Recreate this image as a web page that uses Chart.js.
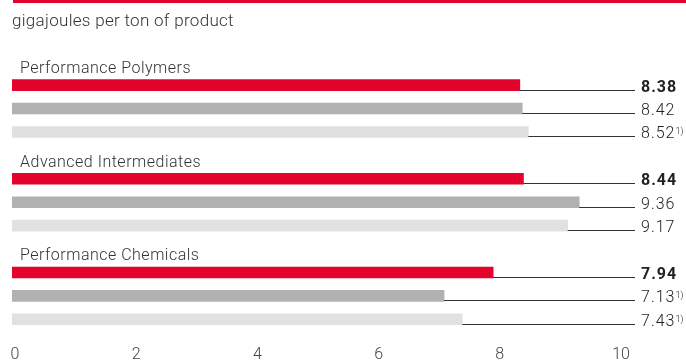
<!DOCTYPE html>
<html>
<head>
    <meta charset="UTF-8">
    <title>Energy per ton of product</title>
    <script src="https://cdn.jsdelivr.net/npm/chart.js"></script>
    <style>
        body { margin: 0; padding: 0; background: #fff; }
        .chart-container { position: relative; width: 686px; height: 363px; }
    </style>
</head>
<body>
    <div class="chart-container">
        <canvas id="energyChart" width="686" height="363"></canvas>
    </div>

    <script>
        // data
        const groups = ['Performance Polymers', 'Advanced Intermediates', 'Performance Chemicals'];
        const currentYear = [8.38, 8.44, 7.94];
        const priorYear = [8.42, 9.36, 7.13];
        const twoYearsAgo = [8.52, 9.17, 7.43];
        const priorNote = [false, false, true];
        const twoYearsNote = [true, false, true];
        const xTicks = [0, 2, 4, 6, 8, 10];
        const subtitle = 'gigajoules per ton of product';

        const RED = '#e4032c';
        const GRAY = '#b1b1b1';
        const LIGHT = '#e1e1e1';
        const FONT = 'Roboto';

        // one slot for the group name, then three bars
        const labels = [];
        const values = [];
        const colors = [];
        const bold = [];
        const notes = [];
        groups.forEach((g, i) => {
            labels.push(g, g + ' a', g + ' b', g + ' c');
            values.push(null, currentYear[i], priorYear[i], twoYearsAgo[i]);
            colors.push('rgba(0,0,0,0)', RED, GRAY, LIGHT);
            bold.push(false, true, false, false);
            notes.push(false, false, priorNote[i], twoYearsNote[i]);
        });

        const labelPlugin = {
            id: 'labelPlugin',
            beforeDraw(chart) {
                const ctx = chart.ctx;
                ctx.save();
                ctx.fillStyle = RED;
                ctx.fillRect(13, 0, 673, 3);
                ctx.fillStyle = '#333';
                ctx.font = '300 17px ' + FONT;
                ctx.letterSpacing = '0.3px';
                ctx.textBaseline = 'alphabetic';
                ctx.textAlign = 'left';
                ctx.fillText(subtitle, 12, 26);
                ctx.restore();
            },
            afterDatasetsDraw(chart) {
                const ctx = chart.ctx;
                const meta = chart.getDatasetMeta(0);
                ctx.save();
                // group names above the red bars
                groups.forEach((g, i) => {
                    const bar = meta.data[i * 4 + 1];
                    const top = bar.y - bar.height / 2;
                    ctx.fillStyle = '#333';
                    ctx.font = '300 16px ' + FONT;
                    ctx.letterSpacing = '0.5px';
                    ctx.textAlign = 'left';
                    ctx.textBaseline = 'alphabetic';
                    ctx.fillText(g, 20, top - 6.5);
                });
                meta.data.forEach((bar, i) => {
                    if (values[i] === null) return;
                    const bottom = Math.round(bar.y + bar.height / 2);
                    ctx.strokeStyle = '#333';
                    ctx.lineWidth = 1;
                    ctx.beginPath();
                    ctx.moveTo(bar.x, bottom - 0.5);
                    ctx.lineTo(635, bottom - 0.5);
                    ctx.stroke();
                    ctx.fillStyle = '#222';
                    ctx.font = (bold[i] ? 'bold ' : '300 ') + '16px ' + FONT;
                    ctx.letterSpacing = '1px';
                    ctx.textAlign = 'left';
                    ctx.textBaseline = 'alphabetic';
                    const txt = values[i].toFixed(2);
                    ctx.fillText(txt, 641, bottom + 0.5);
                    if (notes[i]) {
                        const w = ctx.measureText(txt).width;
                        ctx.font = '300 9px ' + FONT;
                        ctx.letterSpacing = '0px';
                        ctx.fillText('1)', 641 + w, bottom - 3.5);
                    }
                });
                ctx.restore();
            }
        };

        new Chart(document.getElementById('energyChart').getContext('2d'), {
            type: 'bar',
            data: {
                labels: labels,
                datasets: [{
                    data: values,
                    backgroundColor: colors,
                    borderWidth: 0,
                    barThickness: 11
                }]
            },
            options: {
                indexAxis: 'y',
                responsive: false,
                animation: false,
                layout: { padding: { left: 12, right: 68, top: 50, bottom: 2 } },
                plugins: {
                    legend: { display: false },
                    tooltip: { enabled: false }
                },
                scales: {
                    y: {
                        display: false
                    },
                    x: {
                        min: 0,
                        max: 10,
                        afterBuildTicks(axis) {
                            axis.ticks = xTicks.map(v => ({ value: v }));
                        },
                        afterFit(axis) {
                            axis.height = 30;
                            axis.paddingLeft = 0;
                            axis.paddingRight = 0;
                        },
                        grid: { display: false, drawTicks: false },
                        border: { display: false },
                        ticks: {
                            padding: 14,
                            labelOffset: 3,
                            color: '#444',
                            font: { family: FONT, size: 16, weight: '300' }
                        }
                    }
                }
            },
            plugins: [labelPlugin]
        });
    </script>
</body>
</html>
